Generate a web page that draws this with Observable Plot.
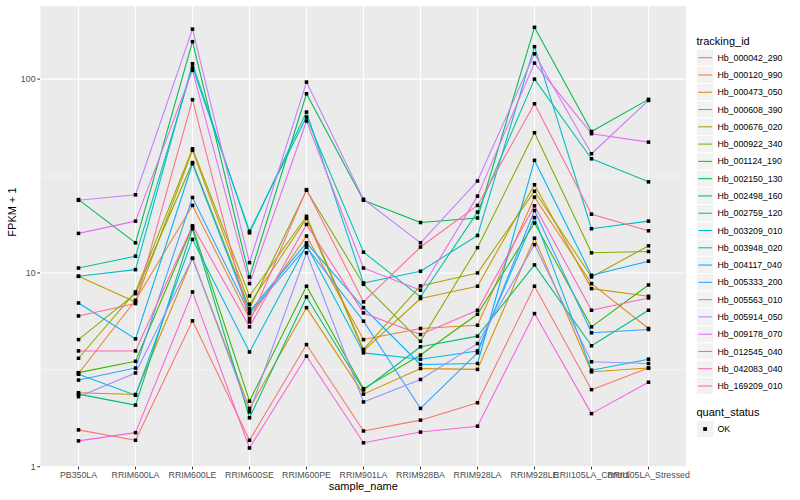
<!DOCTYPE html>
<html><head><meta charset="utf-8">
<script src="https://cdn.jsdelivr.net/npm/d3@7"></script>
<script src="https://cdn.jsdelivr.net/npm/@observablehq/plot@0.6"></script>
<style>body{margin:0;background:#fff}</style>
</head><body><div id="chart"></div>
<script>
const samples = ["PB350LA","RRIM600LA","RRIM600LE","RRIM600SE","RRIM600PE","RRIM901LA","RRIM928BA","RRIM928LA","RRIM928LE","RRII105LA_Control","RRII105LA_Stressed"];
const trackingIds = ["Hb_000042_290","Hb_000120_990","Hb_000473_050","Hb_000608_390","Hb_000676_020","Hb_000922_340","Hb_001124_190","Hb_002150_130","Hb_002498_160","Hb_002759_120","Hb_003209_010","Hb_003948_020","Hb_004117_040","Hb_005333_200","Hb_005563_010","Hb_005914_050","Hb_009178_070","Hb_012545_040","Hb_042083_040","Hb_169209_010"];
const colors = ["#F8766D","#EA8331","#D89000","#C09B00","#A3A500","#7CAE00","#39B600","#00BB4E","#00BF7D","#00C1A3","#00BFC4","#00BAE0","#00B0F6","#35A2FF","#9590FF","#C77CFF","#E76BF3","#FA62DB","#FF62BC","#FF6C91"];
const quantStatus = ["OK"];

// FPKM + 1 per sample, in the order of `samples`
const hb_000042_290 = [1.55, 1.37, 5.66, 1.37, 4.27, 1.53, 1.74, 2.14, 8.54, 2.50, 3.23];
const hb_000120_990 = [3.03, 7.23, 22.3, 5.82, 15.5, 4.53, 5.17, 5.37, 24.6, 8.81, 5.17];
const hb_000473_050 = [2.41, 2.36, 11.9, 2.00, 6.62, 2.37, 3.21, 3.18, 15.1, 3.09, 3.23];
const hb_000608_390 = [9.61, 7.09, 42.9, 6.89, 19.1, 3.96, 7.38, 8.54, 28.5, 8.30, 7.58];
const hb_000676_020 = [3.63, 7.98, 43.7, 7.61, 19.6, 4.03, 8.57, 10.0, 26.4, 9.53, 13.8];
const hb_000922_340 = [4.53, 7.82, 37.1, 6.55, 26.7, 8.74, 4.44, 13.5, 52.9, 12.7, 12.9];
const hb_001124_190 = [3.06, 3.50, 17.3, 2.18, 8.54, 2.53, 3.77, 6.12, 18.1, 5.27, 8.67];
const hb_002150_130 = [23.9, 14.3, 156, 9.53, 84.0, 23.7, 18.2, 19.2, 185, 53.7, 78.6];
const hb_002498_160 = [2.37, 2.08, 16.9, 1.79, 7.52, 2.49, 4.16, 4.72, 11.0, 4.21, 6.42];
const hb_002759_120 = [10.6, 12.2, 115, 16.4, 63.7, 12.8, 7.52, 20.6, 100, 38.8, 29.5];
const hb_003209_010 = [9.61, 10.4, 120, 16.1, 67.6, 8.88, 10.2, 15.6, 147, 16.9, 18.5];
const hb_003948_020 = [3.00, 2.34, 14.9, 3.91, 13.9, 3.87, 3.59, 3.96, 19.3, 3.15, 3.59];
const hb_004117_040 = [7.00, 4.57, 36.6, 6.30, 14.3, 6.62, 3.37, 3.41, 38.1, 9.73, 11.5];
const hb_005333_200 = [2.80, 3.23, 24.5, 6.17, 13.6, 5.64, 2.00, 3.87, 21.0, 4.91, 5.11];
const hb_005563_010 = [2.30, 3.05, 11.9, 1.92, 12.7, 2.16, 2.82, 4.32, 14.0, 3.48, 3.41];
const hb_005914_050 = [23.7, 25.3, 181, 11.3, 96.5, 24.0, 14.3, 29.8, 135, 41.2, 77.6];
const hb_009178_070 = [16.0, 18.5, 111, 8.81, 60.8, 10.6, 8.14, 24.9, 121, 52.3, 47.3];
const hb_012545_040 = [1.36, 1.50, 7.98, 1.25, 3.72, 1.33, 1.51, 1.62, 6.17, 1.88, 2.73];
const hb_042083_040 = [3.96, 3.96, 17.5, 5.27, 17.8, 6.22, 4.81, 6.42, 22.2, 6.42, 7.43];
const hb_169209_010 = [6.00, 6.95, 78.3, 5.59, 26.9, 7.09, 13.6, 22.3, 74.6, 20.1, 16.5];

const seriesValues = [hb_000042_290, hb_000120_990, hb_000473_050, hb_000608_390, hb_000676_020, hb_000922_340, hb_001124_190, hb_002150_130, hb_002498_160, hb_002759_120, hb_003209_010, hb_003948_020, hb_004117_040, hb_005333_200, hb_005563_010, hb_005914_050, hb_009178_070, hb_012545_040, hb_042083_040, hb_169209_010];

const rows = [];
trackingIds.forEach((id, i) => {
  seriesValues[i].forEach((v, j) => rows.push({tracking_id: id, sample_name: samples[j], fpkm1: v, quant_status: "OK"}));
});

const font = "'Liberation Sans', Arial, Helvetica, sans-serif";

const plot = Plot.plot({
  width: 800,
  height: 500,
  marginLeft: 40,
  marginRight: 114.4,
  marginTop: 5.6,
  marginBottom: 33.3,
  style: {fontFamily: font, background: "white", color: "black"},
  x: {type: "point", domain: samples, padding: 0.6, label: null},
  y: {type: "log", domain: [0.995, 238], label: null},
  color: {domain: trackingIds, range: colors},
  marks: [
    Plot.frame({fill: "#EBEBEB", stroke: "none"}),
    Plot.ruleY([Math.sqrt(10), Math.sqrt(1000)], {stroke: "white", strokeWidth: 0.55}),
    Plot.ruleY([1, 10, 100], {stroke: "white", strokeWidth: 1.1}),
    Plot.ruleX(samples, {stroke: "white", strokeWidth: 1.1}),
    Plot.line(rows, {x: "sample_name", y: "fpkm1", z: "tracking_id", stroke: "tracking_id", strokeWidth: 1.07}),
    Plot.dot(rows, {x: "sample_name", y: "fpkm1", symbol: "square", r: 2.0, fill: "black", stroke: "none"}),
    Plot.axisY({ticks: [1, 10, 100], tickFormat: d => String(d), tickSize: 2.75, tickPadding: 2.2, fontSize: 8.8, color: "#4D4D4D", stroke: "#333333", label: null}),
    Plot.axisX({tickSize: 2.75, tickPadding: 2.2, fontSize: 8.8, color: "#4D4D4D", stroke: "#333333", label: null}),
    Plot.text(["FPKM + 1"], {frameAnchor: "left", dx: -28.5, rotate: -90, fontSize: 11, fill: "black"}),
    Plot.text(["sample_name"], {frameAnchor: "bottom", dy: 22.3, fontSize: 11, fill: "black"})
  ]
});

// ggplot-style legends on the right
const colorScale = plot.scale("color");
const svg = d3.select(plot);
const lg = svg.append("g").attr("font-family", font).attr("fill", "black").attr("text-anchor", "start");
const keyX = 696.5, keyW = 17.28, step = 17.28, firstY = 57.7;
lg.append("text").attr("x", keyX).attr("y", 44.5).attr("font-size", 11).attr("text-anchor", "start").text("tracking_id");
trackingIds.forEach((id, i) => {
  const cy = firstY + i * step;
  lg.append("rect").attr("x", keyX).attr("y", cy - keyW / 2).attr("width", keyW).attr("height", keyW)
    .attr("fill", "#F2F2F2").attr("stroke", "white").attr("stroke-width", 1);
  lg.append("line").attr("x1", keyX + 1.7).attr("x2", keyX + keyW - 1.7).attr("y1", cy).attr("y2", cy)
    .attr("stroke", colorScale.apply(id)).attr("stroke-width", 1.07);
  lg.append("text").attr("x", keyX + keyW + 3.6).attr("y", cy).attr("dy", "0.35em").attr("font-size", 8.8)
    .attr("text-anchor", "start").text(id);
});
lg.append("text").attr("x", keyX).attr("y", 416).attr("font-size", 11).attr("text-anchor", "start").text("quant_status");
quantStatus.forEach((q, i) => {
  const cy = 429 + i * step;
  lg.append("rect").attr("x", keyX).attr("y", cy - keyW / 2).attr("width", keyW).attr("height", keyW)
    .attr("fill", "#F2F2F2").attr("stroke", "white");
  lg.append("rect").attr("x", keyX + keyW / 2 - 1.9).attr("y", cy - 1.9).attr("width", 3.8).attr("height", 3.8).attr("fill", "black");
  lg.append("text").attr("x", keyX + keyW + 3.6).attr("y", cy).attr("dy", "0.35em").attr("font-size", 8.8)
    .attr("text-anchor", "start").text(q);
});

document.getElementById("chart").appendChild(plot);
</script>
</body></html>
